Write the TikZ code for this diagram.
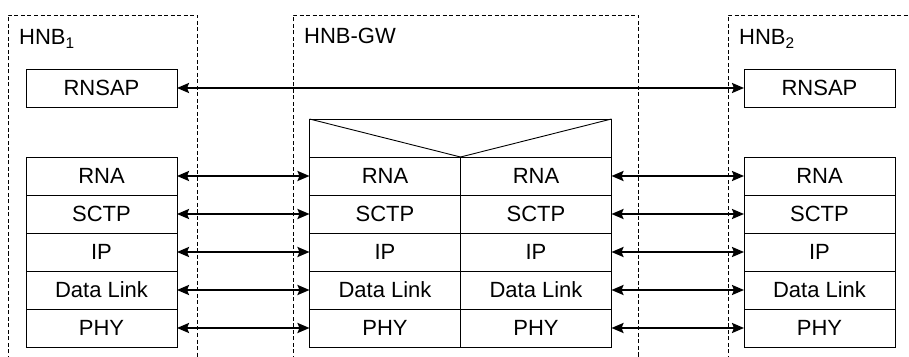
\documentclass[tikz,border=0pt]{standalone}
\usepackage{fontspec}
\setmainfont{Liberation Sans}
\usetikzlibrary{
        arrows.meta,
        positioning
    }
\tikzset{layer/.style={draw,line width=0.9pt,minimum width=151pt,minimum height=38pt,
        inner sep=0pt,outer sep=0pt,font=\fontsize{22}{26}\selectfont}}
\tikzset{frame/.style={draw,dashed,dash pattern=on 4pt off 2.5pt,line width=0.8pt}}
\tikzset{proto/.style={{Stealth[length=12pt,width=10pt,inset=2pt]}-{Stealth[length=12pt,width=10pt,inset=2pt]},line width=2.2pt}}
\tikzset{title/.style={anchor=base west,inner sep=0pt,font=\fontsize{22}{26}\selectfont}}

\begin{document}
\begin{tikzpicture}[x=1pt,y=1pt]
                    \useasboundingbox (0,0) rectangle (909,356);
                    % dashed network elements
                    \draw[frame] (8,-10) -- (8,341) -- (197,341) -- (197,-10);
                    \draw[frame] (293,-10) -- (293,341) -- (638,341) -- (638,-10);
                    \draw[frame] (728,-10) -- (728,341) -- (920,341);
                    \node[title] (hnba) at (19,311) {HNB\textsubscript{1}};
                    \node[title] (hnbgw) at (304,312) {HNB-GW};
                    \node[title] (hnbb) at (739,311) {HNB\textsubscript{2}};
                    % HNB1
                    \node[layer] (lrnsap) at (101.5,268) {RNSAP};
                    \node[layer] (lrna) at (101.5,180) {RNA};
                    \node[layer] (lsctp) [below=0pt of lrna] {SCTP};
                    \node[layer] (lip) [below=0pt of lsctp] {IP};
                    \node[layer] (ldl) [below=0pt of lip] {Data Link};
                    \node[layer] (lphy) [below=0pt of ldl] {PHY};
                    % HNB-GW
                    \node[layer] (grnaa) at (385,180) {RNA};
                    \node[layer] (gsctpa) [below=0pt of grnaa] {SCTP};
                    \node[layer] (gipa) [below=0pt of gsctpa] {IP};
                    \node[layer] (gdla) [below=0pt of gipa] {Data Link};
                    \node[layer] (gphya) [below=0pt of gdla] {PHY};
                    \node[layer] (grnab) [right=0pt of grnaa] {RNA};
                    \node[layer] (gsctpb) [below=0pt of grnab] {SCTP};
                    \node[layer] (gipb) [below=0pt of gsctpb] {IP};
                    \node[layer] (gdlb) [below=0pt of gipb] {Data Link};
                    \node[layer] (gphyb) [below=0pt of gdlb] {PHY};
                    \node[layer,minimum width=302pt] (grelay) [above=0pt of grnaa.north east] {};
                    \draw[line width=0.9pt] (grelay.north west) -- (grelay.south) -- (grelay.north east);
                    % HNB2
                    \node[layer] (rrnsap) at (819.5,268) {RNSAP};
                    \node[layer] (rrna) at (819.5,180) {RNA};
                    \node[layer] (rsctp) [below=0pt of rrna] {SCTP};
                    \node[layer] (rip) [below=0pt of rsctp] {IP};
                    \node[layer] (rdl) [below=0pt of rip] {Data Link};
                    \node[layer] (rphy) [below=0pt of rdl] {PHY};
                    \path[proto]
                        (lrnsap) edge (rrnsap)
                        (lrna)  edge (grnaa)
                        (lsctp) edge (gsctpa)
                        (lip)   edge (gipa)
                        (ldl)   edge (gdla)
                        (lphy)  edge (gphya)
                        (grnab)  edge (rrna)
                        (gsctpb) edge (rsctp)
                        (gipb)   edge (rip)
                        (gdlb)   edge (rdl)
                        (gphyb)  edge (rphy)
                    ;
                \end{tikzpicture}
\end{document}
